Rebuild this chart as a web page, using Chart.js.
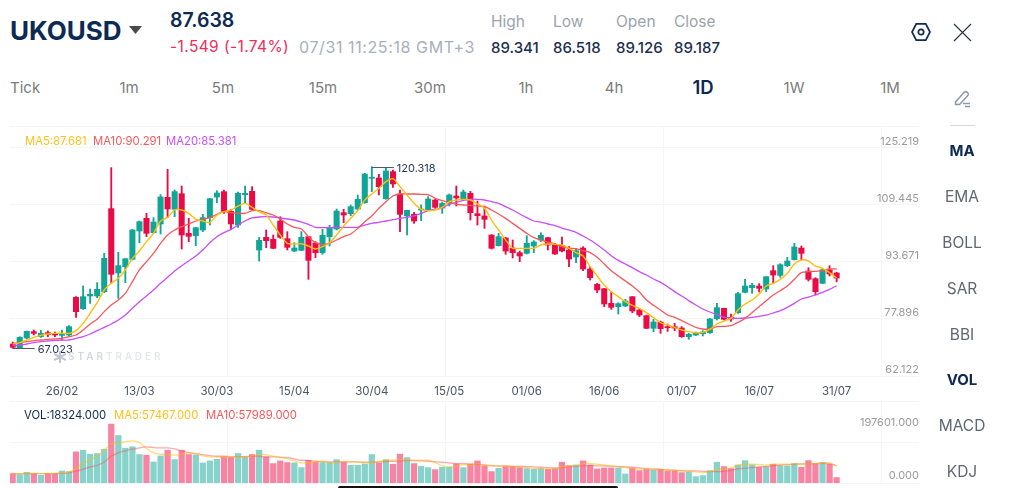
<!DOCTYPE html>
<html lang="en">
  <head>
    <meta charset="UTF-8" />
    <title>UKOUSD</title>
    <style>
      body { margin: 0; background: #fff; font-family: "Inter", sans-serif; overflow: hidden; }
      #page { position: relative; width: 1024px; height: 488px; overflow: hidden; }
      canvas { position: absolute; left: 0; }
      .t { position: absolute; white-space: nowrap; line-height: 1; transform: translateY(-50%); }
      .c { transform: translate(-50%, -50%); }
      .navy { color: #0d2a52; }
      .head { font-size: 15.5px; color: #9ba3ad; }
      .val { font-size: 15px; color: #1c2f4f; font-weight: 500; }
      .tf { font-size: 15px; color: #7b7b7b; }
      .side { font-size: 15.5px; color: #5f6772; left: 962px; }
      .side.on { font-weight: 700; color: #0d2a52; font-size: 15px; }
      .leg { font-size: 11.3px; }
    </style>
    <script src="https://cdn.jsdelivr.net/npm/chart.js"></script>
  </head>
  <body>
    <div id="page">
      <canvas id="priceChart" width="1024" height="280" style="top: 120px"></canvas>
      <canvas id="volChart" width="1024" height="93" style="top: 395px"></canvas>

      <div class="t navy" style="left: 10px; top: 31px; font-size: 26px; font-weight: 700">UKOUSD</div>
      <svg style="position: absolute; left: 129px; top: 26px" width="13" height="8"><path d="M0 0H13L6.5 8Z" fill="#4a4a4a" /></svg>
      <div class="t navy" style="left: 170px; top: 21px; font-size: 19.5px; font-weight: 600">87.638</div>
      <div class="t" style="left: 170px; top: 47px; font-size: 15.5px; letter-spacing: 0.4px; color: #ee2c5c">-1.549 (-1.74%)</div>
      <div class="t" style="left: 299px; top: 47px; font-size: 16px; letter-spacing: 0.6px; color: #a7afbd">07/31 11:25:18 GMT+3</div>
      <div class="t head" style="left: 491px; top: 22px">High</div>
      <div class="t head" style="left: 553px; top: 22px">Low</div>
      <div class="t head" style="left: 616px; top: 22px">Open</div>
      <div class="t head" style="left: 674px; top: 22px">Close</div>
      <div class="t val" style="left: 491px; top: 47px">89.341</div>
      <div class="t val" style="left: 553px; top: 47px">86.518</div>
      <div class="t val" style="left: 616px; top: 47px">89.126</div>
      <div class="t val" style="left: 674px; top: 47px">89.187</div>
      <svg style="position: absolute; left: 911px; top: 22px" width="20" height="20" fill="none" stroke="#0d2a52" stroke-width="1.7">
        <path d="M5.2 1.8H14.8L19 10L14.8 18.2H5.2L1 10Z" /><circle cx="10" cy="10" r="2.7" />
      </svg>
      <svg style="position: absolute; left: 953px; top: 23px" width="19" height="19" stroke="#2b3442" stroke-width="1.1"><path d="M1 1L18 18M18 1L1 18" /></svg>

      <div class="t tf" style="left: 10px; top: 87px">Tick</div>
      <div class="t tf c" style="left: 129px; top: 87px">1m</div>
      <div class="t tf c" style="left: 223px; top: 87px">5m</div>
      <div class="t tf c" style="left: 323px; top: 87px">15m</div>
      <div class="t tf c" style="left: 430px; top: 87px">30m</div>
      <div class="t tf c" style="left: 526px; top: 87px">1h</div>
      <div class="t tf c" style="left: 614px; top: 87px">4h</div>
      <div class="t c navy" style="left: 703px; top: 87px; font-size: 18.5px; font-weight: 600">1D</div>
      <div class="t tf c" style="left: 794px; top: 87px">1W</div>
      <div class="t tf c" style="left: 890px; top: 87px">1M</div>

      <svg style="position: absolute; left: 954px; top: 90px" width="18" height="18" fill="none" stroke="#8d99a8" stroke-width="1.5">
        <path d="M1.5 12L10 2.5C11 1.5 12.5 1.5 13.5 2.5C14.5 3.5 14.5 4.8 13.6 5.8L5.5 14.5H1.5Z" /><path d="M9 13.5H16M11 16.5H16" />
      </svg>
      <div style="position: absolute; left: 950px; top: 125px; width: 25px; height: 1px; background: #d5d9de"></div>
      <div class="t c side on" style="top: 150px">MA</div>
      <div class="t c side" style="top: 197px">EMA</div>
      <div class="t c side" style="top: 243px">BOLL</div>
      <div class="t c side" style="top: 289px">SAR</div>
      <div class="t c side" style="top: 335px">BBI</div>
      <div class="t c side on" style="top: 379px">VOL</div>
      <div class="t c side" style="top: 426px">MACD</div>
      <div class="t c side" style="top: 472px">KDJ</div>

      <div class="t leg" style="left: 25px; top: 142px; color: #ffc21a">MA5:87.681</div>
      <div class="t leg" style="left: 93px; top: 142px; color: #f8575a">MA10:90.291</div>
      <div class="t leg" style="left: 166px; top: 142px; color: #c94dfb">MA20:85.381</div>
      <div class="t leg navy" style="left: 24px; top: 416px">VOL:18324.000</div>
      <div class="t leg" style="left: 114px; top: 416px; color: #ffc21a">MA5:57467.000</div>
      <div class="t leg" style="left: 206px; top: 416px; color: #f8575a">MA10:57989.000</div>

      <svg style="position: absolute; left: 54px; top: 351px" width="12" height="12" stroke="#bfc5ce" stroke-width="2"><path d="M6 0V12M0 3L12 9M12 3L0 9" /></svg>
      <div class="t" style="left: 68px; top: 356px; font-size: 10px; font-weight: 600; letter-spacing: 3px; color: #d3d7dd">STAR<span style="font-weight: 400; color: #dde0e5">TRADER</span></div>

      <div style="position: absolute; left: 338px; top: 486px; width: 280px; height: 4px; border-radius: 2px; background: #111"></div>
    </div>

    <script>
      var dateTickIndex = [7, 18, 29, 40, 51, 62, 73, 84, 95, 106, 117];
      var dateTickLabels = ["26/02", "13/03", "30/03", "15/04", "30/04", "15/05", "01/06", "16/06", "01/07", "16/07", "31/07"];
      var priceTicks = [62.122, 77.896, 93.671, 109.445, 125.219];
      var volTicks = [0, 197601];

      var opens = [
        68.28, 67.20, 70.04, 71.90, 70.43, 71.60, 71.31, 70.82, 70.92, 81.97,
        78.65, 82.37, 82.37, 83.64, 108.00, 89.12, 90.98, 93.13, 101.44, 105.16,
        100.95, 103.50, 111.32, 107.80, 112.40, 100.76, 100.07, 101.74, 105.36, 111.42,
        112.99, 107.21, 103.20, 112.11, 113.08, 95.87, 99.58, 99.00, 104.38, 99.19,
        95.57, 95.77, 99.78, 97.92, 95.08, 99.78, 102.03, 106.82, 106.53, 107.90,
        109.76, 116.90, 117.00, 110.93, 118.86, 112.30, 105.85, 106.33, 107.61, 107.61,
        110.54, 108.19, 109.56, 111.71, 110.74, 112.50, 106.53, 105.85, 100.27, 97.14,
        99.39, 96.45, 95.08, 94.89, 97.04, 98.80, 99.49, 97.33, 97.24, 95.87,
        93.81, 96.45, 90.29, 85.79, 84.52, 80.21, 79.24, 79.43, 82.17, 78.26,
        76.59, 72.88, 74.74, 73.37, 73.37, 72.97, 70.43, 70.92, 71.31, 71.60,
        75.71, 78.75, 76.11, 77.47, 83.44, 84.81, 85.30, 84.42, 89.80, 88.43,
        91.27, 93.03, 96.45, 89.70, 87.45, 86.09, 90.09, 89.126
      ];
      var highs = [
        68.86, 70.43, 72.09, 72.39, 72.29, 72.09, 71.80, 72.39, 73.66, 82.17,
        85.30, 84.42, 86.28, 94.89, 120.03, 95.18, 93.32, 101.93, 104.38, 106.63,
        105.36, 112.11, 119.54, 113.48, 114.65, 105.16, 102.52, 106.33, 111.03, 113.28,
        113.48, 107.80, 112.89, 114.65, 114.45, 99.58, 101.74, 100.27, 105.65, 101.25,
        98.02, 101.25, 99.78, 98.31, 101.93, 103.11, 107.90, 107.80, 109.07, 112.01,
        118.37, 120.318, 118.07, 120.03, 119.35, 113.48, 107.61, 106.92, 109.07, 111.52,
        110.74, 109.86, 112.30, 114.65, 113.48, 113.08, 110.25, 108.78, 100.37, 100.76,
        99.58, 98.80, 95.57, 100.07, 98.61, 100.95, 99.58, 97.82, 99.68, 96.84,
        96.36, 96.84, 90.98, 86.09, 84.62, 83.54, 80.41, 81.39, 82.17, 78.75,
        76.79, 75.52, 75.03, 74.15, 74.34, 73.37, 71.41, 71.80, 72.19, 75.81,
        80.21, 78.84, 77.08, 83.44, 87.26, 86.09, 85.99, 88.04, 91.27, 91.86,
        93.71, 97.82, 97.04, 90.68, 87.75, 90.29, 91.27, 89.341
      ];
      var lows = [
        67.023, 67.10, 69.84, 70.92, 70.24, 70.43, 70.43, 69.45, 70.63, 76.11,
        78.45, 80.21, 81.88, 83.34, 86.09, 81.68, 86.28, 92.93, 98.02, 99.78,
        100.76, 100.56, 105.36, 105.65, 96.16, 98.31, 97.14, 101.25, 103.20, 109.76,
        106.63, 101.93, 102.52, 109.56, 107.61, 92.64, 96.55, 96.26, 99.29, 95.87,
        95.38, 95.67, 87.26, 93.62, 94.59, 97.04, 101.74, 103.89, 105.94, 107.61,
        109.56, 112.99, 112.01, 110.74, 114.26, 101.25, 100.27, 103.69, 104.48, 107.41,
        108.10, 106.63, 108.78, 108.78, 110.54, 104.67, 103.20, 102.22, 96.16, 97.04,
        94.59, 93.52, 92.44, 94.69, 95.08, 98.31, 95.87, 94.59, 95.28, 90.98,
        92.15, 89.80, 87.06, 83.34, 79.24, 78.45, 77.08, 79.24, 77.47, 76.30,
        72.78, 71.90, 71.41, 71.99, 72.19, 70.24, 69.65, 70.73, 70.63, 71.41,
        75.32, 75.32, 74.93, 77.28, 83.25, 83.15, 83.54, 83.64, 86.09, 87.84,
        90.98, 92.93, 92.93, 86.77, 82.66, 85.99, 88.24, 86.518
      ];
      var closes = [
        67.30, 70.24, 71.99, 71.41, 71.41, 71.02, 70.92, 71.11, 73.37, 77.77,
        82.17, 82.86, 84.32, 93.42, 88.73, 91.27, 93.32, 101.74, 104.18, 100.76,
        104.08, 111.42, 107.90, 112.99, 100.27, 99.88, 102.42, 105.36, 110.93, 112.60,
        107.21, 103.50, 112.50, 112.50, 107.80, 98.70, 98.61, 96.36, 99.58, 96.65,
        96.45, 99.58, 92.83, 95.08, 100.17, 102.52, 107.31, 106.14, 108.58, 110.74,
        118.17, 117.19, 114.45, 119.05, 115.24, 106.33, 107.51, 104.38, 107.90, 110.83,
        108.39, 109.56, 112.01, 111.13, 112.89, 106.82, 105.94, 104.87, 96.36, 99.78,
        95.57, 95.08, 94.11, 97.82, 98.21, 100.17, 97.33, 94.69, 95.57, 93.22,
        95.67, 90.29, 87.75, 84.13, 80.02, 79.04, 80.12, 80.90, 77.96, 76.79,
        72.88, 74.74, 72.78, 73.07, 72.97, 70.43, 71.11, 71.51, 71.80, 75.62,
        78.94, 75.52, 75.62, 83.05, 85.30, 85.50, 84.62, 88.04, 88.53, 91.56,
        92.64, 96.75, 94.89, 87.26, 83.64, 90.09, 88.82, 87.638
      ];
      var ma5 = [
        68.28, 68.67, 69.45, 70.24, 70.82, 71.21, 71.41, 71.41, 71.41, 72.19,
        74.34, 77.28, 80.41, 84.13, 86.09, 87.55, 90.00, 93.42, 95.57, 98.31,
        100.76, 104.38, 105.45, 107.61, 107.61, 106.63, 104.87, 104.38, 103.89, 106.14,
        107.12, 107.61, 108.78, 109.56, 108.39, 107.12, 106.14, 103.20, 100.27, 97.82,
        97.63, 97.72, 97.04, 96.16, 96.84, 98.02, 100.27, 102.91, 105.16, 107.41,
        110.54, 112.30, 113.97, 115.92, 116.80, 114.45, 112.01, 109.56, 107.80, 107.41,
        107.61, 108.39, 110.05, 110.54, 110.74, 110.54, 109.37, 108.10, 104.67, 101.74,
        98.80, 96.36, 96.36, 96.36, 96.36, 97.33, 97.63, 97.53, 97.33, 96.36,
        95.08, 94.11, 90.98, 88.24, 85.59, 83.64, 82.17, 80.70, 79.63, 78.75,
        77.47, 76.01, 74.54, 73.85, 73.17, 72.39, 71.90, 71.60, 71.70, 72.58,
        74.15, 75.03, 75.81, 78.26, 80.02, 81.19, 82.95, 85.30, 86.09, 87.26,
        89.02, 91.76, 92.93, 92.64, 91.17, 90.49, 89.21, 87.681
      ];
      var ma10 = [
        68.47, 68.67, 68.96, 69.26, 69.45, 69.65, 69.75, 69.94, 70.43, 70.92,
        72.39, 74.15, 75.52, 77.77, 79.73, 81.19, 83.15, 86.57, 90.00, 92.44,
        94.89, 97.82, 100.27, 101.74, 102.71, 103.50, 104.38, 104.87, 105.36, 106.33,
        107.12, 106.82, 106.63, 106.63, 107.41, 107.41, 106.82, 106.14, 104.97, 103.50,
        102.52, 102.03, 99.78, 98.02, 97.53, 97.82, 98.80, 99.78, 100.56, 102.22,
        104.18, 105.85, 108.10, 110.05, 111.71, 112.30, 112.30, 112.30, 112.20, 112.11,
        111.03, 110.35, 109.76, 109.27, 109.07, 108.98, 108.78, 108.58, 107.61, 106.43,
        105.16, 103.69, 102.22, 100.76, 99.49, 98.80, 98.21, 97.63, 96.84, 96.36,
        96.26, 95.67, 95.08, 93.71, 91.76, 89.80, 88.24, 86.77, 85.30, 83.54,
        81.19, 79.63, 78.26, 76.79, 76.11, 75.13, 74.15, 73.17, 72.68, 72.68,
        73.37, 73.46, 73.66, 74.64, 75.81, 77.47, 79.24, 81.00, 82.66, 83.93,
        85.30, 87.26, 89.21, 89.51, 89.61, 89.80, 90.29, 90.291
      ];
      var ma20 = [
        67.79, 67.89, 68.28, 68.67, 68.96, 69.16, 69.35, 69.45, 69.45, 69.94,
        70.43, 71.21, 72.19, 73.17, 74.15, 75.32, 76.79, 78.75, 80.70, 82.37,
        84.13, 86.09, 87.84, 89.70, 91.27, 92.64, 94.11, 95.87, 98.02, 99.78,
        100.95, 101.93, 103.20, 104.38, 105.26, 105.55, 105.65, 105.55, 105.26, 104.97,
        104.67, 104.08, 103.40, 102.52, 102.42, 102.42, 102.52, 102.52, 102.52, 102.52,
        103.20, 103.69, 103.99, 104.38, 104.77, 105.16, 105.45, 105.85, 106.63, 107.41,
        107.80, 108.19, 109.27, 109.86, 110.44, 110.74, 110.74, 110.54, 110.05, 109.56,
        108.58, 107.61, 106.43, 105.36, 104.38, 104.08, 103.50, 103.01, 102.32, 101.74,
        101.05, 99.98, 98.80, 97.43, 95.87, 94.20, 92.83, 91.76, 90.68, 89.51,
        88.53, 87.35, 86.38, 85.10, 83.64, 82.37, 81.00, 79.73, 78.55, 77.67,
        76.89, 76.20, 75.91, 75.81, 75.91, 76.11, 76.40, 76.79, 77.38, 78.06,
        79.04, 80.21, 81.49, 82.07, 82.66, 83.44, 84.32, 85.381
      ];
      var volumes = [
        31400, 28100, 35900, 31400, 25800, 31400, 31400, 40400, 38200, 104400,
        110000, 96600, 98800, 113400, 197601, 159400, 116800, 121300, 95400, 93200,
        70700, 90900, 110000, 78600, 110000, 95400, 93200, 67400, 74100, 79700,
        87600, 86400, 98800, 87600, 95400, 110000, 87600, 65100, 74100, 68500,
        67400, 51600, 76300, 70700, 68500, 68500, 78600, 69600, 59500, 59500,
        64000, 95400, 67400, 78600, 62900, 96600, 85300, 65100, 56100, 51600,
        44900, 52800, 52800, 64000, 51600, 62900, 74100, 57300, 38200, 49400,
        55000, 55000, 51600, 48300, 46000, 48300, 46000, 48300, 69600, 58400,
        60600, 74100, 60600, 47200, 50500, 50500, 50500, 30300, 49400, 41500,
        46000, 43800, 46000, 40400, 40400, 34800, 37000, 21300, 24700, 41500,
        69600, 55000, 48300, 60600, 75200, 60600, 52800, 55000, 62900, 57300,
        57300, 65100, 52800, 75200, 65100, 68500, 62900, 18324
      ];
      var volMa5 = [
        31400, 30300, 31400, 32600, 31400, 31400, 32600, 33700, 37000, 48300,
        65100, 78600, 90900, 110000, 132500, 135800, 138100, 141500, 135800, 115600,
        101000, 96600, 95400, 93200, 96600, 102200, 96600, 90900, 87600, 87600,
        85300, 85300, 87600, 87600, 90900, 95400, 95400, 89800, 85300, 80800,
        74100, 67400, 67400, 69600, 73000, 68500, 69600, 71900, 71900, 69600,
        68500, 69600, 71900, 76300, 76300, 78600, 78600, 76300, 76300, 76300,
        68500, 57300, 53900, 57300, 61700, 59500, 65100, 59500, 57300, 56100,
        57300, 56100, 53900, 51600, 49400, 48300, 47200, 48300, 53900, 57300,
        58400, 65100, 65100, 62900, 59500, 57300, 56100, 51600, 48300, 47200,
        46000, 44900, 44900, 43800, 42700, 40400, 39300, 37000, 34800, 39300,
        44900, 47200, 50500, 59500, 62900, 62900, 61700, 60600, 62900, 62900,
        62900, 64000, 62900, 64000, 65100, 67400, 67400, 57467
      ];
      var volMa10 = [
        31400, 31400, 31400, 31400, 31400, 31400, 31400, 32600, 33700, 40400,
        46000, 53900, 59500, 70700, 89800, 101000, 107800, 113400, 117900, 121300,
        119000, 117900, 117900, 114500, 107800, 102200, 98800, 95400, 92100, 89800,
        89800, 88700, 88700, 88700, 89800, 89800, 87600, 87600, 86400, 85300,
        80800, 76300, 75200, 73000, 71900, 70700, 70700, 70700, 70700, 70700,
        69600, 69600, 70700, 71900, 73000, 74100, 75200, 75200, 74100, 73000,
        71900, 69600, 67400, 65100, 65100, 64000, 62900, 60600, 58400, 57300,
        57300, 56100, 56100, 55000, 53900, 52800, 51600, 50500, 51600, 55000,
        56100, 57300, 58400, 57300, 57300, 56100, 55000, 53900, 52800, 50500,
        48300, 47200, 46000, 43800, 42700, 41500, 40400, 40400, 39300, 38200,
        38200, 39300, 42700, 47200, 49400, 51600, 53900, 56100, 58400, 59500,
        61700, 62900, 64000, 64000, 65100, 66200, 65100, 57989
      ];

      var UP = "#10a596";
      var DOWN = "#ea0a45";
      var UP_SOFT = "rgba(16, 165, 150, 0.5)";
      var DOWN_SOFT = "rgba(238, 10, 70, 0.5)";
      var GRID = "#f4f5f6";
      var FONT = "Inter";

      function isUp(i) {
        return closes[i] >= opens[i];
      }
      function candleColors(up, down) {
        return closes.map(function (c, i) {
          return isUp(i) ? up : down;
        });
      }
      function points(values) {
        return values.map(function (v, i) {
          return { x: i, y: v };
        });
      }
      function maLine(values, color, width, yAxisID) {
        return {
          type: "line",
          data: points(values),
          borderColor: color,
          borderWidth: width,
          pointRadius: 0,
          tension: 0.25,
          yAxisID: yAxisID,
          order: 1,
        };
      }
      // labels may overhang the plot area, don't let them push it in
      function noOverhang(axis) {
        axis.paddingTop = 0;
        axis.paddingBottom = 0;
        axis.paddingLeft = 0;
        axis.paddingRight = 0;
      }

      // the candle index range that keeps both panes on the same x positions
      var xMin = -0.38;
      var xMax = 128.7;

      // vertical grid lines, the reference has none at the left edge
      var xGridScale = {
        type: "linear",
        axis: "x",
        position: "bottom",
        min: 0,
        max: 4.17,
        ticks: { display: false },
        grid: { color: GRID, drawTicks: false },
        border: { display: false },
        afterBuildTicks: function (axis) {
          axis.ticks = [1, 2, 3, 4].map(function (v) {
            return { value: v };
          });
        },
        afterFit: function (axis) {
          axis.height = 0;
          noOverhang(axis);
        },
      };

      // high and low markers
      var extremes = {
        id: "extremes",
        afterDatasetsDraw: function (chart) {
          var x = chart.scales.x;
          var y = chart.scales.y;
          var ctx = chart.ctx;
          var hi = highs.indexOf(Math.max.apply(null, highs));
          var lo = lows.indexOf(Math.min.apply(null, lows));
          ctx.save();
          ctx.strokeStyle = "#4d5b70";
          ctx.lineWidth = 1;
          ctx.fillStyle = "#1f3352";
          ctx.font = "11px " + FONT;
          ctx.textBaseline = "middle";
          [[hi, highs[hi]], [lo, lows[lo]]].forEach(function (m) {
            var px = x.getPixelForValue(m[0]);
            var py = Math.round(y.getPixelForValue(m[1])) + 0.5;
            ctx.beginPath();
            ctx.moveTo(px, py);
            ctx.lineTo(px + 22, py);
            ctx.stroke();
            ctx.fillText(m[1].toFixed(3), px + 25, py + 1);
          });
          ctx.restore();
        },
      };

      new Chart(document.getElementById("priceChart"), {
        data: {
          datasets: [
            maLine(ma5, "#ffbe0b", 1.4, "y"),
            maLine(ma10, "#f8575a", 1.3, "y"),
            maLine(ma20, "#c94dfb", 1.3, "y"),
            {
              type: "bar",
              data: points(opens.map(function (o, i) { return [o, closes[i]]; })),
              backgroundColor: candleColors(UP, DOWN),
              barThickness: 5.4,
              grouped: false,
              yAxisID: "y",
              order: 2,
            },
            {
              type: "bar",
              data: points(lows.map(function (l, i) { return [l, highs[i]]; })),
              backgroundColor: candleColors(UP, DOWN),
              barThickness: 1.2,
              grouped: false,
              yAxisID: "y",
              order: 3,
            },
          ],
        },
        options: {
          responsive: false,
          animation: false,
          layout: { padding: { left: 10, right: 105, top: 6, bottom: 0 } },
          plugins: { legend: { display: false }, tooltip: { enabled: false } },
          scales: {
            x: {
              type: "linear",
              offset: false,
              min: xMin,
              max: xMax,
              grid: { display: false },
              border: { display: false },
              afterBuildTicks: function (axis) {
                axis.ticks = dateTickIndex.map(function (v) {
                  return { value: v };
                });
              },
              afterFit: function (axis) {
                axis.height = 24;
                noOverhang(axis);
              },
              ticks: {
                autoSkip: false,
                maxRotation: 0,
                padding: 1,
                color: "#4b5563",
                font: { family: FONT, size: 11.5 },
                callback: function (v) {
                  return dateTickLabels[dateTickIndex.indexOf(v)];
                },
              },
            },
            xGrid: xGridScale,
            y: { display: false, min: 58.89, max: 132.26 },
            yPrice: {
              type: "linear",
              axis: "y",
              position: "right",
              min: 62.122,
              max: 131.3,
              grid: { color: GRID, drawTicks: false },
              border: { display: false },
              afterBuildTicks: function (axis) {
                axis.ticks = priceTicks.concat([131.3]).map(function (v) {
                  return { value: v };
                });
              },
              afterFit: noOverhang,
              ticks: {
                mirror: true,
                autoSkip: false,
                padding: 0,
                labelOffset: -6.5,
                color: "#9a9a9a",
                font: { family: FONT, size: 11 },
                callback: function (v) {
                  return priceTicks.indexOf(v) < 0 ? "" : v.toFixed(3);
                },
              },
            },
          },
        },
        plugins: [extremes],
      });

      new Chart(document.getElementById("volChart"), {
        data: {
          datasets: [
            maLine(volMa5, "rgba(255, 190, 11, 0.55)", 1.3, "yVol"),
            maLine(volMa10, "rgba(248, 87, 90, 0.5)", 1.3, "yVol"),
            {
              type: "bar",
              data: points(volumes),
              backgroundColor: candleColors(UP_SOFT, DOWN_SOFT),
              barThickness: 5.6,
              yAxisID: "yVol",
              order: 2,
            },
          ],
        },
        options: {
          responsive: false,
          animation: false,
          layout: { padding: { left: 10, right: 105, top: 6, bottom: 5 } },
          plugins: { legend: { display: false }, tooltip: { enabled: false } },
          scales: {
            x: { type: "linear", offset: false, display: false, min: xMin, max: xMax },
            xGrid: xGridScale,
            yVol: { display: false, min: 0, max: 275060 },
            yVolGrid: {
              type: "linear",
              axis: "y",
              position: "left",
              min: 0,
              max: 2,
              ticks: { display: false, stepSize: 1 },
              grid: { color: GRID, drawTicks: false },
              border: { display: false },
              afterFit: noOverhang,
            },
            yVolAxis: {
              type: "linear",
              axis: "y",
              position: "right",
              min: 0,
              max: 305723,
              grid: { display: false, drawTicks: false },
              border: { display: false },
              afterBuildTicks: function (axis) {
                axis.ticks = volTicks.map(function (v) {
                  return { value: v };
                });
              },
              afterFit: noOverhang,
              ticks: {
                mirror: true,
                autoSkip: false,
                padding: 0,
                labelOffset: -7,
                color: "#9a9a9a",
                font: { family: FONT, size: 11 },
                callback: function (v) {
                  return v.toFixed(3);
                },
              },
            },
          },
        },
      });
    </script>
  </body>
</html>
